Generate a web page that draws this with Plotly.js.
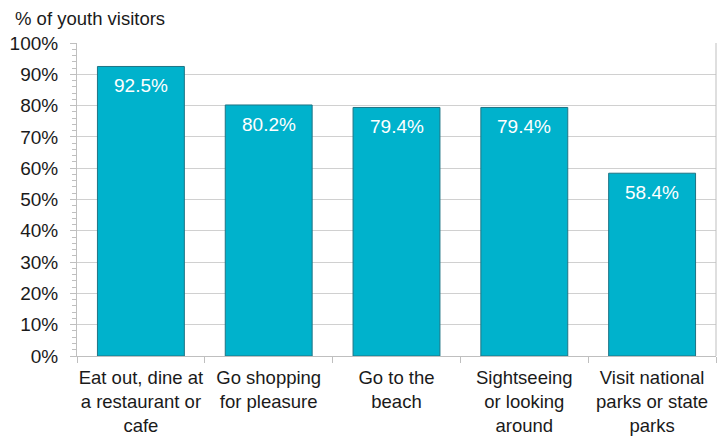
<!DOCTYPE html>
<html>
<head>
<meta charset="utf-8">
<script src="https://cdn.plot.ly/plotly-3.0.1.min.js"></script>
<style>html,body{margin:0;padding:0;background:#fff;}#chart{width:728px;height:437px;}</style>
</head>
<body>
<div id="chart"></div>
<script>
const categories = [
  "Eat out, dine at<br>a restaurant or<br>cafe",
  "Go shopping<br>for pleasure",
  "Go to the<br>beach",
  "Sightseeing<br>or looking<br>around",
  "Visit national<br>parks or state<br>parks"
];
const values = [0.925, 0.802, 0.794, 0.794, 0.584];
const valueLabels = ["92.5%", "80.2%", "79.4%", "79.4%", "58.4%"];
const yTitle = "% of youth visitors";

const FONT = "Liberation Sans, Arial, sans-serif";

const trace = {
  type: "bar",
  x: categories,
  y: values,
  width: 0.68,
  marker: { color: "#00B2CC", line: { color: "#1f7484", width: 1 } },
  hoverinfo: "skip"
};

const annotations = values.map((v, i) => ({
  x: categories[i], y: v, xref: "x", yref: "y",
  text: valueLabels[i], showarrow: false,
  yanchor: "top", yshift: -7,
  font: { family: FONT, size: 19, color: "#ffffff" }
}));

const layout = {
  width: 728, height: 437,
  margin: { l: 77, r: 12, t: 43, b: 81, pad: 0 },
  paper_bgcolor: "#ffffff", plot_bgcolor: "#ffffff",
  font: { family: FONT, size: 18.5, color: "#1a1a1a" },
  showlegend: false,
  title: {
    text: yTitle, xref: "container", yref: "container",
    x: 15 / 728, xanchor: "left", y: 1 - 19 / 437, yanchor: "middle",
    font: { family: FONT, size: 18.5, color: "#1a1a1a" }
  },
  xaxis: {
    type: "category",
    tickangle: 0,
    showline: true, linecolor: "#bfbfbf", linewidth: 1,
    ticks: "outside", tickson: "boundaries", ticklen: 6, tickcolor: "#bfbfbf",
    ticklabelstandoff: 5,
    showgrid: false, mirror: false,
    tickfont: { family: FONT, size: 18.5, color: "#1a1a1a" },
    fixedrange: true
  },
  yaxis: {
    range: [0, 1], dtick: 0.1, tickformat: ".0%",
    showline: true, linecolor: "#bfbfbf", linewidth: 1,
    ticks: "outside", ticklen: 6, tickcolor: "#bfbfbf",
    ticklabelstandoff: 8,
    minor: { dtick: 0.02, ticks: "outside", ticklen: 4, tickcolor: "#bfbfbf", showgrid: false },
    showgrid: true, gridcolor: "#d0d0d0", gridwidth: 1,
    zeroline: false,
    tickfont: { family: FONT, size: 19, color: "#1a1a1a" },
    fixedrange: true
  },
  shapes: [
    { type: "line", xref: "paper", yref: "paper", x0: 1, x1: 1, y0: 0, y1: 1,
      line: { color: "#bfbfbf", width: 1 } }
  ],
  annotations: annotations
};

Plotly.newPlot("chart", [trace], layout, { displayModeBar: false, staticPlot: true });
</script>
</body>
</html>
